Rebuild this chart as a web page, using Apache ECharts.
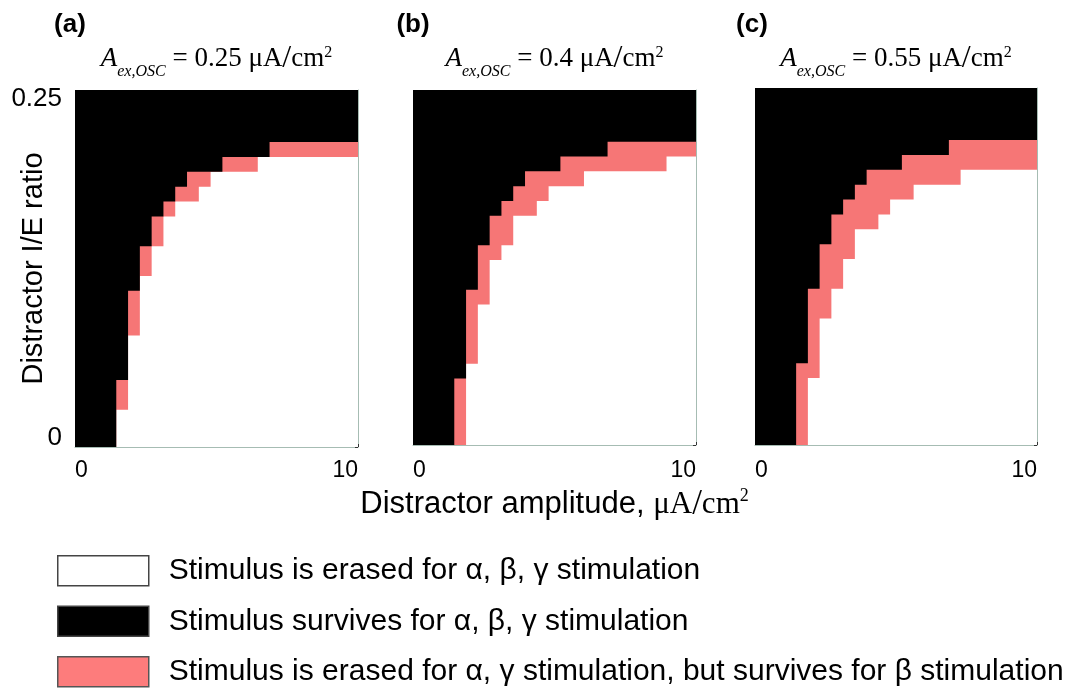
<!DOCTYPE html>
<html>
<head>
<meta charset="utf-8">
<script src="https://cdn.jsdelivr.net/npm/echarts@6/dist/echarts.min.js"></script>
<style>
  html, body { margin: 0; padding: 0; background: #ffffff; }
  #chart { width: 1077px; height: 688px; }
</style>
</head>
<body>
<div id="chart"></div>
<script>
// Simulation grid: each map cell is centred on one of these sample values
const amplitudes = [0, 0.417, 0.833, 1.25, 1.667, 2.083, 2.5, 2.917, 3.333, 3.75, 4.167, 4.583, 5,
                    5.417, 5.833, 6.25, 6.667, 7.083, 7.5, 7.917, 8.333, 8.75, 9.167, 9.583, 10];
const ratios = [0, 0.0104, 0.0208, 0.0313, 0.0417, 0.0521, 0.0625, 0.0729, 0.0833, 0.0938, 0.1042,
                0.1146, 0.125, 0.1354, 0.1458, 0.1563, 0.1667, 0.1771, 0.1875, 0.1979, 0.2083,
                0.2188, 0.2292, 0.2396, 0.25];

// For every amplitude column: index (into `ratios`) of the lowest cell where the
// stimulus survives for all rhythms, and of the lowest cell where it survives for beta.
const survivesAllA  = [0, 0, 0, 0, 5, 11, 14, 16, 17, 18, 19, 19, 19, 20, 20, 20, 20, 21, 21, 21, 21, 21, 21, 21, 21];
const survivesBetaA = [0, 0, 0, 0, 3,  8, 12, 14, 16, 17, 17, 18, 19, 19, 19, 19, 20, 20, 20, 20, 20, 20, 20, 20, 20];
const survivesAllB  = [0, 0, 0, 0, 5, 11, 14, 16, 17, 18, 19, 19, 19, 20, 20, 20, 20, 21, 21, 21, 21, 21, 21, 21, 21];
const survivesBetaB = [0, 0, 0, 0, 0,  6, 10, 13, 14, 16, 16, 17, 18, 18, 18, 19, 19, 19, 19, 19, 19, 19, 20, 20, 20];
const survivesAllC  = [0, 0, 0, 0, 6, 11, 14, 16, 17, 18, 19, 19, 19, 20, 20, 20, 20, 21, 21, 21, 21, 21, 21, 21, 21];
const survivesBetaC = [0, 0, 0, 0, 0,  5,  9, 11, 13, 15, 15, 16, 17, 17, 18, 18, 18, 18, 19, 19, 19, 19, 19, 19, 19];

const panelTags = ['(a)', '(b)', '(c)'];
const oscAmplitudes = ['0.25', '0.4', '0.55'];
const ratioTickLabels = ['0', '0.25'];
const ampTickLabels = ['0', '10'];
const regionNames = [
  'Stimulus is erased for α, β, γ stimulation',
  'Stimulus survives for α, β, γ stimulation',
  'Stimulus is erased for α, γ stimulation, but survives for β stimulation'
];

const survivesAll = [survivesAllA, survivesAllB, survivesAllC];
const survivesBeta = [survivesBetaA, survivesBetaB, survivesBetaC];

// Layout of the three maps
const gridBoxes = [
  { left: 75,  top: 90, width: 283, height: 357 },
  { left: 413, top: 90, width: 283, height: 355 },
  { left: 755, top: 88, width: 282, height: 357 }
];
const tagCentres = [70, 413, 752];
const PINK = '#f67676';
const FRAME = '#a6bcb3';
const SANS = 'Liberation Sans';
const SERIF = 'Liberation Serif';
const TITLE_PAD = 5;

// lower edge of a cell row (cells are centred on the samples, clipped at the axis)
function lowerEdge(row) {
  return row === 0 ? ratios[0] : (ratios[row - 1] + ratios[row]) / 2;
}
function boundary(rows) {
  return amplitudes.map((a, i) => [a, lowerEdge(rows[i])]);
}

const grids = gridBoxes.map(b => Object.assign({ containLabel: false, outerBoundsMode: 'none' }, b));

const xAxes = gridBoxes.map((b, p) => {
  const ax = {
    gridIndex: p, type: 'value', min: 0, max: 10, interval: 2,
    axisLine: { show: true, lineStyle: { color: FRAME, width: 1 } },
    axisTick: { show: true, inside: true, length: 3, lineStyle: { color: '#333' } },
    splitLine: { show: false },
    axisLabel: {
      show: true, fontSize: 23, fontFamily: SANS, color: '#000',
      margin: p === 0 ? 12 : 14,
      alignMinLabel: 'left', alignMaxLabel: 'right',
      formatter: v => (v === 0 ? ampTickLabels[0] : (Math.abs(v - 10) < 1e-9 ? ampTickLabels[1] : ''))
    }
  };
  if (p === 1) {
    ax.name = '{t|Distractor amplitude, }{u|μA}{sl|/}{u|cm}{sp|2}';
    ax.nameLocation = 'middle';
    ax.nameGap = 42;
    ax.nameMoveOverlap = false;
    ax.nameTextStyle = {
      color: '#000',
      rich: {
        t: { fontFamily: SANS, fontSize: 31, color: '#000' },
        u: { fontFamily: SERIF, fontSize: 31, color: '#000' },
        sl: { fontFamily: SERIF, fontSize: 35, color: '#000' },
        sp: { fontFamily: SERIF, fontSize: 18, color: '#000', padding: [0, 0, 16, 0] }
      }
    };
  }
  return ax;
});

const yAxes = [];
gridBoxes.forEach((b, p) => {
  const left = {
    gridIndex: p, type: 'value', min: 0, max: 0.25, interval: 0.05, position: 'left',
    axisLine: { show: false }, axisTick: { show: false }, splitLine: { show: false },
    axisLabel: { show: false }
  };
  if (p === 0) {
    left.axisLabel = {
      show: true, margin: 13, color: '#000',
      formatter: v => (v === 0 ? '{lo|' + ratioTickLabels[0] + '}'
                      : (Math.abs(v - 0.25) < 1e-9 ? '{hi|' + ratioTickLabels[1] + '}' : '')),
      rich: {
        lo: { fontFamily: SANS, fontSize: 26, color: '#000', padding: [0, 0, 18, 0] },
        hi: { fontFamily: SANS, fontSize: 26, color: '#000', padding: [18, 0, 0, 0] }
      }
    };
    left.name = 'Distractor I/E ratio';
    left.nameLocation = 'middle';
    left.nameGap = 27;
    left.nameMoveOverlap = false;
    left.nameTextStyle = { fontFamily: SANS, fontSize: 29, color: '#000' };
  }
  yAxes.push(left);
  yAxes.push({
    gridIndex: p, type: 'value', min: 0, max: 0.25, interval: 0.05, position: 'right',
    axisLine: { show: true, lineStyle: { color: FRAME, width: 1 } },
    axisTick: { show: true, inside: true, length: 3, lineStyle: { color: '#333' } },
    axisLabel: { show: false }, splitLine: { show: false }
  });
});

// Each region is the area between a stepped boundary and one end of the ratio axis
function region(p, name, rows, color, origin, z) {
  return {
    name: name, type: 'line', xAxisIndex: p, yAxisIndex: 2 * p,
    data: boundary(rows), step: 'middle', showSymbol: false, symbol: 'none',
    lineStyle: { width: 0, opacity: 0 },
    itemStyle: { color: color },
    areaStyle: { color: color, opacity: 1, origin: origin },
    silent: true, emphasis: { disabled: true }, animation: false, z: z
  };
}

const series = [];
gridBoxes.forEach((b, p) => {
  series.push(region(p, regionNames[0], survivesBeta[p], '#ffffff', 'start', 2));
  series.push(region(p, regionNames[2], survivesBeta[p], PINK, 'end', 3));
  series.push(region(p, regionNames[1], survivesAll[p], '#000000', 'end', 4));
});

const serifToken = extra => Object.assign({ fontFamily: SERIF, fontWeight: 'normal', color: '#000' }, extra);
const titles = [];
gridBoxes.forEach((b, p) => {
  titles.push({
    text: panelTags[p], left: tagCentres[p] - TITLE_PAD, top: 7, textAlign: 'center',
    textStyle: { fontFamily: SANS, fontSize: 26, fontWeight: 'bold', color: '#000' }
  });
  titles.push({
    text: '{it|A}{sub|ex,OSC}{rm| = ' + oscAmplitudes[p] + ' μA}{sl|/}{rm|cm}{sup|2}',
    left: b.left + b.width / 2 - TITLE_PAD, top: 33, textAlign: 'center',
    textStyle: {
      color: '#000', fontWeight: 'normal',
      rich: {
        it: serifToken({ fontStyle: 'italic', fontSize: 27 }),
        sub: serifToken({ fontStyle: 'italic', fontSize: 16, padding: [26, 0, 0, 0] }),
        rm: serifToken({ fontSize: 27 }),
        sl: serifToken({ fontSize: 32 }),
        sup: serifToken({ fontSize: 16, padding: [0, 0, 12, 0] })
      }
    }
  });
});

const chart = echarts.init(document.getElementById('chart'), null, { renderer: 'canvas' });
chart.setOption({
  animation: false,
  backgroundColor: '#ffffff',
  title: titles,
  grid: grids,
  xAxis: xAxes,
  yAxis: yAxes,
  legend: {
    orient: 'vertical', left: 57, top: 555, width: 1000, height: 200,
    itemWidth: 91, itemHeight: 30, itemGap: 19,
    selectedMode: false, padding: 0,
    textStyle: { fontFamily: SANS, fontSize: 30, lineHeight: 30, color: '#000', padding: [0, 0, 0, 15] },
    data: [
      { name: regionNames[0], icon: 'rect', itemStyle: { color: '#ffffff', borderColor: '#444', borderWidth: 1.5 } },
      { name: regionNames[1], icon: 'rect', itemStyle: { color: '#000000', borderColor: '#444', borderWidth: 1.5 } },
      { name: regionNames[2], icon: 'rect', itemStyle: { color: '#fd7c7c', borderColor: '#555', borderWidth: 1.5 } }
    ]
  },
  series: series
});
</script>
</body>
</html>
